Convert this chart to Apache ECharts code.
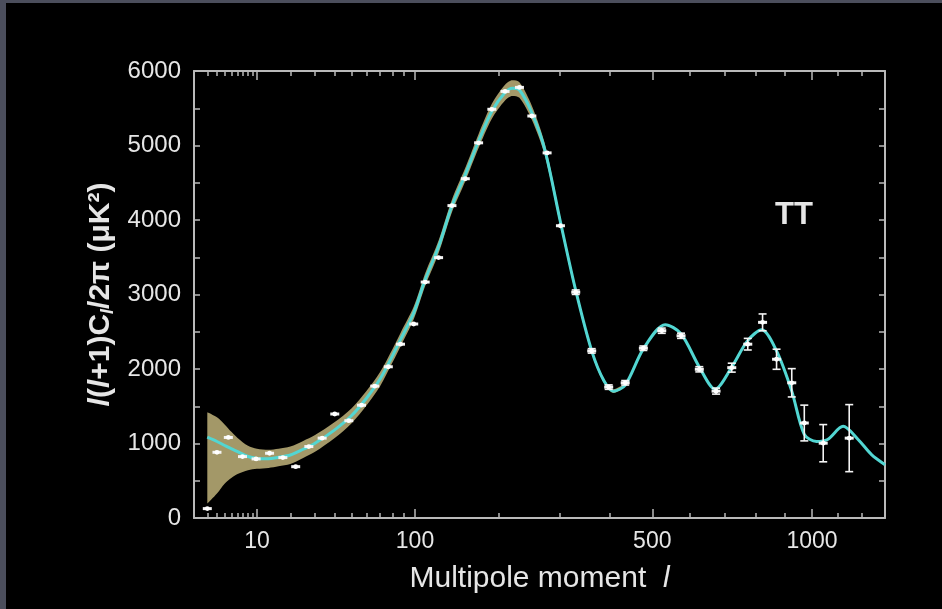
<!DOCTYPE html>
<html>
<head>
<meta charset="utf-8">
<script src="https://cdn.jsdelivr.net/npm/echarts@6/dist/echarts.min.js"></script>
<style>
  html, body { margin: 0; padding: 0; background: #4b4e5c; width: 942px; height: 609px; overflow: hidden; }
  #chart { position: absolute; left: 6px; top: 3px; width: 936px; height: 606px; background: #000; }
</style>
</head>
<body>
<div id="chart"></div>
<script>
// Multipole axis: positions follow l^0.4
const X_POWER = 0.4;
const tx = l => Math.pow(l, X_POWER);
const untx = u => Math.pow(u, 1 / X_POWER);

const L_MIN = 1;
const L_MAX = 1300;
const X_MAJOR_TICKS = [10, 100, 500, 1000];
const X_MINOR_TICKS = [2, 3, 4, 5, 6, 7, 8, 9, 20, 30, 40, 50, 60, 70, 80, 90,
                       200, 300, 400, 600, 700, 800, 900, 1100, 1200];

// Best-fit model spectrum
const CURVE_L = [2, 3, 4, 5, 6, 8, 10, 13, 16, 20, 25, 30, 40, 50, 60, 70, 80, 87, 99, 110,
                 124, 139, 155, 172, 190, 209, 220, 231, 251, 273, 301, 330, 362, 388, 409,
                 435, 478, 533, 575, 626, 672, 723, 773, 820, 871, 925, 971, 1017, 1060,
                 1122, 1184, 1241, 1300];
const CURVE_D = [1085, 1027, 973, 928, 892, 825, 800, 795, 815, 845, 923, 1000, 1180, 1372,
                 1608, 1865, 2180, 2400, 2760, 3200, 3640, 4190, 4610, 5060, 5460, 5710, 5770,
                 5745, 5440, 4946, 3973, 3054, 2243, 1838, 1703, 1784, 2270, 2595, 2473, 2027,
                 1730, 2027, 2378, 2527, 2243, 1703, 1122, 1027, 1054, 1230, 1054, 851, 716];

// Cosmic-variance band (same l as the first entries of CURVE_L)
const BAND_LO = [193, 328, 464, 541, 590, 640, 660, 672, 695, 725, 805, 885, 1070, 1270, 1510,
                 1770, 2090, 2310, 2675, 3115, 3555, 4105, 4520, 4965, 5360, 5605, 5665, 5640,
                 5345, 4866, 3913, 3004, 2203, 1808, 1678, 1764];
const BAND_HI = [1419, 1351, 1253, 1153, 1075, 970, 930, 915, 930, 960, 1035, 1110, 1285, 1470,
                 1705, 1960, 2270, 2490, 2845, 3285, 3725, 4275, 4700, 5155, 5560, 5815, 5875,
                 5850, 5535, 5026, 4033, 3104, 2283, 1868, 1728, 1804];

// Measured band powers with 1-sigma errors
const POINT_L = [2, 3, 4.5, 6.9, 9.8, 13.3, 17.4, 22, 27.4, 33.6, 40.2, 48.4, 56.6, 66, 76.5,
                 86.8, 98.8, 110, 124, 139, 155, 172, 190, 209, 231, 251, 277, 301, 330, 362,
                 398, 435, 478, 524, 575, 626, 675, 723, 774, 823, 871, 925, 971, 1043, 1147];
const POINT_D = [126, 882, 1081, 824, 793, 869, 811, 689, 959, 1072, 1396, 1306, 1514, 1770,
                 2030, 2333, 2604, 3167, 3495, 4193, 4554, 5036, 5486, 5726, 5780, 5396, 4901,
                 3923, 3031, 2243, 1757, 1815, 2279, 2514, 2446, 1996, 1703, 2018, 2333, 2626,
                 2131, 1815, 1275, 1004, 1072];
const POINT_ERR = [0, 0, 0, 0, 0, 0, 0, 0, 0, 0, 0, 0, 0, 0, 0, 0, 0, 0, 0, 0, 0, 0, 0, 0, 0,
                   0, 0, 0, 30, 30, 30, 30, 30, 35, 35, 35, 40, 60, 78, 113, 135, 190, 240, 250, 450];

const Y_MIN = 0, Y_MAX = 6000, Y_STEP = 500, Y_LABEL_STEP = 1000;

const AXIS_COLOR = '#b9b9b9';
const TEXT_COLOR = '#e6e6e6';
const CURVE_COLOR = '#52d6d2';
const BAND_COLOR = '#a39868';
const FONT = '"Liberation Sans", Arial, Helvetica, sans-serif';

const chart = echarts.init(document.getElementById('chart'), null, { renderer: 'canvas' });

const xBase = {
  type: 'value', min: tx(L_MIN), max: tx(L_MAX), gridIndex: 0,
  splitLine: { show: false }
};
function xAxisDef(position, major, withLine, withLabels) {
  const ticks = (major ? X_MAJOR_TICKS : X_MINOR_TICKS).map(tx);
  return Object.assign({}, xBase, {
    position,
    axisLine: { show: withLine, onZero: false, lineStyle: { color: AXIS_COLOR, width: 2 } },
    axisTick: { show: true, inside: true, length: major ? 9 : 5, customValues: ticks,
                lineStyle: { color: AXIS_COLOR, width: 1.5 } },
    axisLabel: withLabels ? {
      show: true, customValues: ticks, margin: 12, color: TEXT_COLOR,
      fontSize: 23, fontFamily: FONT,
      formatter: v => String(Math.round(untx(v)))
    } : { show: false }
  });
}

const xAxes = [
  Object.assign(xAxisDef('bottom', true, true, true), {
    name: 'Multipole moment  {i|l}',
    nameLocation: 'middle', nameGap: 46,
    nameTextStyle: {
      color: TEXT_COLOR, fontSize: 30, fontFamily: FONT,
      rich: { i: { fontStyle: 'italic', fontSize: 30, color: TEXT_COLOR, fontFamily: FONT } }
    }
  }),
  xAxisDef('bottom', false, false, false),
  xAxisDef('top', true, true, false),
  xAxisDef('top', false, false, false)
];

const yAxes = [
  {
    type: 'value', position: 'left', min: Y_MIN, max: Y_MAX, interval: Y_STEP,
    axisLine: { show: true, onZero: false, lineStyle: { color: AXIS_COLOR, width: 2 } },
    axisTick: { show: true, inside: true, length: 6, lineStyle: { color: AXIS_COLOR, width: 1.5 } },
    axisLabel: { color: TEXT_COLOR, fontSize: 24, fontFamily: FONT, margin: 13,
                 formatter: v => (v % Y_LABEL_STEP === 0 ? String(v) : '') },
    splitLine: { show: false },
    name: '{i|l}({i|l}+1)C{s|l}/2π (μK²)',
    nameLocation: 'middle', nameGap: 34, nameRotate: 90,
    nameTextStyle: {
      color: TEXT_COLOR, fontSize: 30, fontWeight: 'bold', fontFamily: FONT,
      rich: {
        i: { fontStyle: 'italic', fontWeight: 'bold', fontSize: 30, color: TEXT_COLOR, fontFamily: FONT },
        s: { fontStyle: 'italic', fontWeight: 'bold', fontSize: 18, color: TEXT_COLOR, fontFamily: FONT,
             padding: [14, 0, 0, 0] }
      }
    }
  },
  {
    type: 'value', position: 'right', min: Y_MIN, max: Y_MAX, interval: Y_STEP,
    axisLine: { show: true, onZero: false, lineStyle: { color: AXIS_COLOR, width: 2 } },
    axisTick: { show: true, inside: true, length: 6, lineStyle: { color: AXIS_COLOR, width: 1.5 } },
    axisLabel: { show: false },
    splitLine: { show: false }
  }
];

// Band items are [power, position] so the stack accumulates along the power axis
const bandLower = BAND_LO.map((v, i) => [v, tx(CURVE_L[i])]);
const bandWidth = BAND_HI.map((v, i) => [v - BAND_LO[i], tx(CURVE_L[i])]);
const curve = CURVE_D.map((v, i) => [tx(CURVE_L[i]), v]);
const points = POINT_D.map((v, i) => [tx(POINT_L[i]), v, POINT_ERR[i]]);

function renderPoint(params, api) {
  const x = api.value(0), y = api.value(1), err = api.value(2);
  const c = api.coord([x, y]);
  const white = { stroke: '#f4f4f4', lineWidth: 1.6 };
  const children = [];
  if (err > 0) {
    const top = api.coord([x, y + err]);
    const bot = api.coord([x, y - err]);
    children.push(
      { type: 'line', shape: { x1: c[0], y1: top[1], x2: c[0], y2: bot[1] }, style: white },
      { type: 'line', shape: { x1: c[0] - 4, y1: top[1], x2: c[0] + 4, y2: top[1] }, style: white },
      { type: 'line', shape: { x1: c[0] - 4, y1: bot[1], x2: c[0] + 4, y2: bot[1] }, style: white }
    );
  }
  children.push(
    { type: 'rect', shape: { x: c[0] - 4.5, y: c[1] - 1.5, width: 9, height: 3 }, style: { fill: '#f4f4f4' } },
    { type: 'circle', shape: { cx: c[0], cy: c[1], r: 2.4 }, style: { fill: '#ffffff' } }
  );
  return { type: 'group', children };
}

chart.setOption({
  animation: false,
  backgroundColor: '#000',
  grid: { left: 188, right: 57, top: 68, bottom: 91, containLabel: false },
  xAxis: xAxes,
  yAxis: yAxes,
  graphic: [{
    type: 'text', x: 788, y: 212,
    style: { text: 'TT', fill: TEXT_COLOR, font: 'bold 31px ' + FONT,
             textAlign: 'center', textVerticalAlign: 'middle' }
  }],
  series: [
    { type: 'line', name: 'band-low', data: bandLower, encode: { x: 1, y: 0 },
      xAxisIndex: 0, yAxisIndex: 0,
      stack: 'cv', symbol: 'none', smooth: 0.3, silent: true, z: 1,
      lineStyle: { opacity: 0 } },
    { type: 'line', name: 'band', data: bandWidth, encode: { x: 1, y: 0 },
      xAxisIndex: 0, yAxisIndex: 0,
      stack: 'cv', symbol: 'none', smooth: 0.3, silent: true, z: 1,
      lineStyle: { opacity: 0 }, areaStyle: { color: BAND_COLOR, opacity: 1 } },
    { type: 'line', name: 'model', data: curve, xAxisIndex: 0, yAxisIndex: 0,
      symbol: 'none', smooth: 0.3, z: 2,
      lineStyle: { color: CURVE_COLOR, width: 3 } },
    { type: 'custom', name: 'data', data: points, xAxisIndex: 0, yAxisIndex: 0,
      renderItem: renderPoint, z: 3 }
  ]
});
</script>
</body>
</html>
